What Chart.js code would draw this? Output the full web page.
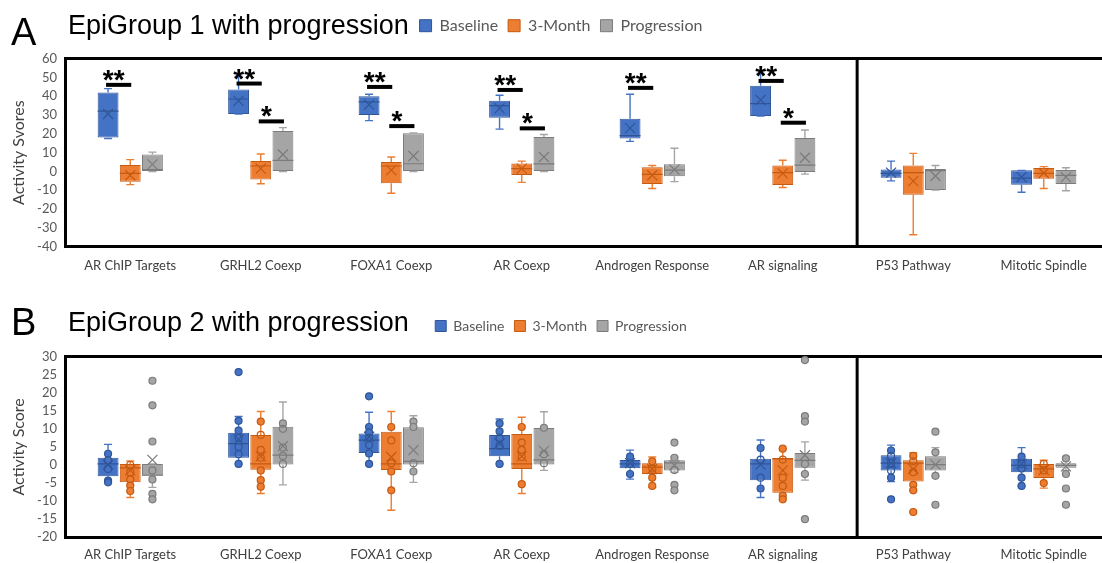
<!DOCTYPE html>
<html>
<head>
<meta charset="utf-8">
<title>EpiGroup activity scores</title>
<script src="https://cdn.jsdelivr.net/npm/chart.js@4.4.1/dist/chart.umd.min.js"></script>
<style>
  body { margin: 0; background: #fff; overflow: hidden; }
  #page { position: relative; width: 1102px; height: 563px; overflow: hidden; }
  canvas { position: absolute; left: 0; }
  #chartA { top: 0; }
  #chartB { top: 290px; }
  .letter, .heading { position: absolute; font-family: "Liberation Sans", Arial, sans-serif; color: #000; white-space: nowrap; }
  .letter { font-size: 38px; line-height: 38px; left: 11px; }
  .heading { font-size: 27px; line-height: 27px; left: 68px; }
</style>
</head>
<body>
<div id="page">
  <canvas id="chartA" width="1112" height="290"></canvas>
  <canvas id="chartB" width="1112" height="288"></canvas>
  <div class="letter" style="top:13px">A</div>
  <div class="heading" style="top:12px">EpiGroup 1 with progression</div>
  <div class="letter" style="top:303px">B</div>
  <div class="heading" style="top:309px">EpiGroup 2 with progression</div>
</div>
<script>
const categories = ["AR ChIP Targets", "GRHL2 Coexp", "FOXA1 Coexp", "AR Coexp",
                    "Androgen Response", "AR signaling", "P53 Pathway", "Mitotic Spindle"];
const seriesNames = ["Baseline", "3-Month", "Progression"];

// each box: [min, q1, median, q3, max]
// EpiGroup 1
const g1Baseline = [[17.5, 18, 32, 42, 44], [30.5, 30.5, 38.5, 43.5, 50.5], [27, 30, 37, 40, 41], [22.5, 28.5, 35, 37.5, 40.5],
                    [16, 17.5, 19, 28, 41], [29.5, 29.5, 36, 45.5, 52], [-5, -3.3, -1, 1, 5.5], [-11, -7, -3.5, 0.6, 0.6]];
const g1Month3 = [[-7, -5.5, -1, 3.5, 6.3], [-6.5, -4.2, 2.9, 5.5, 9.3], [-11.6, -6.3, 2.9, 5, 7.7], [-5.8, -1.9, 1.5, 4.3, 5.5],
                  [-9, -6.7, -1.5, 2.3, 3.2], [-8.5, -7.2, -0.6, 3.2, 6], [-33.6, -12.3, -0.6, 3.2, 9.6], [-9, -3.8, -1, 1.9, 2.6]];
const g1Progression = [[0, 0.2, 1, 9, 10.3], [0, 0.2, 5.9, 21.5, 23.3], [0, 0.2, 4.1, 20.3, 20.5], [0, 0.2, 4, 18.3, 19.6],
                       [-5.4, -2.5, 0.7, 3.9, 12.3], [-1.4, -0.3, 3.4, 17.8, 22], [-9.9, -9.9, 0.5, 1.3, 3.2], [-10.2, -6.7, -2.1, 0.8, 2]];
const g1BaselineMean = [30.5, 37.5, 35.5, 33.5, 23, 38, -0.6, -3];
const g1Month3Mean = [-2, 1.5, 0.7, 1.5, -2, -1, -5.1, -0.8];
const g1ProgressionMean = [3.8, 9, 8.2, 7.7, 1, 7.3, -2.4, -3];
// significance bars (y value), Baseline vs 3-Month "**" and 3-Month vs Progression "*"
const g1SigBaseline = [46, 46.7, 44.9, 43.3, 44.4, 48.1, null, null];
const g1SigProgression = [null, 26.6, 24.1, 22.9, null, 25.9, null, null];

// EpiGroup 2
const g2Baseline = [[-4.8, -3.1, 0.3, 2, 5.7], [0.3, 2, 5.9, 8.9, 13.4], [0.3, 3.3, 6.9, 8.7, 14.6], [0.3, 2.4, 4.5, 8.3, 12.7],
                    [-3.9, -0.9, 0.3, 1.4, 4.1], [-9, -4.2, 0.3, 1.7, 6.9], [-4.6, -1.5, 0.5, 2.7, 5.5], [-5.9, -2, -0.1, 1.7, 4.8]];
const g2Month3 = [[-9, -4.8, -0.8, 0.3, 1.1], [-7.9, -1.3, 0.3, 8.3, 14.8], [-12.5, -1.4, 0.3, 9.2, 14.8], [-7.9, -1.1, 0.3, 8.6, 13.2],
                  [-6.2, -2.5, -0.6, 0.5, 2.2], [-9.5, -7.7, 1.7, 1.9, 4.5], [-7.1, -4.6, 0.5, 1.3, 3.4], [-6.4, -3.6, -1.1, 0.3, 1.3]];
const g2Progression = [[-6.2, -2.9, -2.8, 0.3, 0.3], [-5.5, 0.1, 2.7, 10.6, 17.4], [-4.8, 0.1, 1, 10.4, 13.6], [-1.5, 0.1, 1.4, 10.2, 14.7],
                       [-2, -1.5, 0.6, 1.3, 2.2], [-4.2, -0.8, 1.3, 3.3, 6.4], [-3.2, -1.5, 0.1, 2.4, 4.8], [-1.5, -0.8, -0.1, 0.5, 2.2]];
const g2BaselineMean = [0.1, 7.1, 7.8, 5.9, 0.5, 0.1, 0.5, 0.3];
const g2Month3Mean = [-1.5, 2.4, 2.2, 2.4, -1.1, -1.5, -1.1, -1.4];
const g2ProgressionMean = [1.4, 5.2, 4.1, 3.9, -0.1, 2.7, 0.1, -0.4];
const g2BaselinePoints = [[3.1, 1.3, -1.1, -4.3, -4.8], [25.7, 12.2, 9.5, 7.5, 5, 3, 0.3], [19, 10.5, 9, 7.5, 5.5, 3.2, 0.3],
                          [11.5, 9.3, 7.5, 5.3, 0.3], [2.3, 0.3, -2.5], [4.7, 1.5, -3.5, -6.5],
                          [4, 2.5, 0.5, -1.5, -3.5, -9.5], [2.3, 0.3, -1, -3.5, -5.8]];
const g2Month3Points = [[0, -2, -4, -5.7, -7.2], [12, 8.3, 4.2, 2, -1.5, -4.2, -6], [10.5, 6.8, 0.5, -1.8, -7],
                        [10.5, 6.2, 4.2, 2.2, -5.3], [1, -1, -3.5, -5.8], [4.5, 1.5, -3.5, -5.8, -8.5, -9.5],
                        [2.5, 1, -2, -5.5, -7, -13], [0.3, -1.5, -5]];
const g2ProgressionPoints = [[23.3, 16.5, 6.5, -1.5, -4, -8, -9.5], [11.5, 10, 4.8, 2.5, 0.3], [12, 10.5, 0.5, -1.8],
                             [10.3, 3, 0.5], [6.2, 2, -1.4, -5.5, -7], [29, 13.5, 12, 0.3, -2.5, -15],
                             [9.2, 3.5, -3, -11], [1.8, -2.5, -6.5, -11]];

const seriesColors = ["#4472C4", "#ED7D31", "#A5A5A5"];
const seriesEdges = ["#2F5597", "#C55A11", "#7B7B7B"];

Chart.defaults.font.family = "Lato, 'Open Sans', sans-serif";

// whiskers, median, mean cross and data points on top of the floating bars
const boxPlot = {
    id: "boxPlot",
    afterDatasetsDraw(chart) {
        const ctx = chart.ctx;
        const y = chart.scales.y;
        chart.data.datasets.forEach((ds, i) => {
            const meta = chart.getDatasetMeta(i);
            meta.data.forEach((bar, j) => {
                const s = ds.stats[j];
                const x = bar.x, half = bar.width / 2;
                const py = s.map(v => y.getPixelForValue(v));
                ctx.save();
                ctx.lineWidth = 1.4;
                ctx.strokeStyle = seriesColors[i];
                ctx.beginPath();
                ctx.moveTo(x, py[3]); ctx.lineTo(x, py[4]);
                ctx.moveTo(x - 4, py[4]); ctx.lineTo(x + 4, py[4]);
                ctx.moveTo(x, py[1]); ctx.lineTo(x, py[0]);
                ctx.moveTo(x - 4, py[0]); ctx.lineTo(x + 4, py[0]);
                ctx.stroke();

                ctx.strokeStyle = seriesEdges[i];
                ctx.lineWidth = 1.2;
                ctx.beginPath();
                ctx.moveTo(x - half, py[2]); ctx.lineTo(x + half, py[2]);
                const m = y.getPixelForValue(ds.means[j]);
                ctx.moveTo(x - 5, m - 5); ctx.lineTo(x + 5, m + 5);
                ctx.moveTo(x - 5, m + 5); ctx.lineTo(x + 5, m - 5);
                ctx.stroke();

                if (ds.points) {
                    ds.points[j].forEach(v => {
                        const p = y.getPixelForValue(v);
                        ctx.beginPath();
                        ctx.arc(x, p, 3.5, 0, Math.PI * 2);
                        if (v < s[1] || v > s[3]) {
                            ctx.fillStyle = seriesColors[i];
                            ctx.fill();
                        }
                        ctx.stroke();
                    });
                }
                ctx.restore();
            });
        });
    }
};

// thick divider between the AR gene sets and the control pathways
const divider = {
    id: "divider",
    afterDatasetsDraw(chart) {
        const {ctx, chartArea} = chart;
        const x = chart.scales.x.getPixelForValue(5.57);
        ctx.save();
        ctx.strokeStyle = "#000";
        ctx.lineWidth = 3;
        ctx.beginPath();
        ctx.moveTo(x, chartArea.top);
        ctx.lineTo(x, chartArea.bottom);
        ctx.stroke();
        ctx.restore();
    }
};

function sigMarks(pairs) {
    return {
        id: "sigMarks",
        afterDatasetsDraw(chart) {
            const ctx = chart.ctx;
            const y = chart.scales.y;
            pairs.forEach(p => {
                const a = chart.getDatasetMeta(p.from).data;
                const b = chart.getDatasetMeta(p.to).data;
                p.levels.forEach((v, j) => {
                    if (v === null) return;
                    const x1 = a[j].x - 2, x2 = b[j].x + 1;
                    const yy = y.getPixelForValue(v);
                    ctx.save();
                    ctx.strokeStyle = "#000";
                    ctx.lineWidth = 4;
                    ctx.beginPath();
                    ctx.moveTo(x1, yy);
                    ctx.lineTo(x2, yy);
                    ctx.stroke();
                    ctx.fillStyle = "#000";
                    ctx.font = "bold 28px 'Liberation Sans', Arial";
                    ctx.textAlign = "center";
                    ctx.textBaseline = "alphabetic";
                    ctx.fillText(p.label, (x1 + x2) / 2 - 5, yy + 4);
                    ctx.restore();
                });
            });
        }
    };
}

function makeChart(id, opt) {
    const datasets = seriesNames.map((name, i) => ({
        label: name,
        data: opt.stats[i].map(s => [s[1], s[3]]),
        stats: opt.stats[i],
        means: opt.means[i],
        points: opt.points ? opt.points[i] : null,
        backgroundColor: seriesColors[i],
        borderColor: seriesEdges[i],
        borderWidth: 1,
        borderSkipped: false,
        categoryPercentage: 0.51,
        barPercentage: 0.94
    }));

    return new Chart(document.getElementById(id), {
        type: "bar",
        data: { labels: categories, datasets: datasets },
        options: {
            responsive: false,
            animation: false,
            layout: { padding: opt.padding },
            plugins: {
                legend: {
                    position: "top",
                    labels: {
                        boxWidth: opt.legendBox,
                        boxHeight: opt.legendBox,
                        padding: 10,
                        color: "#595959",
                        font: { size: opt.legendFont }
                    }
                },
                tooltip: { enabled: false }
            },
            scales: {
                x: {
                    grid: { display: false, drawTicks: false },
                    border: { display: true, color: "#000", width: 3 },
                    ticks: { color: "#404040", font: { size: 13 }, padding: opt.xPad, maxRotation: 0, autoSkip: false }
                },
                x2: {
                    type: "category",
                    position: "top",
                    grid: { display: false, drawTicks: false },
                    border: { display: true, color: "#000", width: 3 },
                    ticks: { display: false },
                    afterFit: s => { s.height = opt.topGap; }
                },
                y: {
                    min: opt.yMin,
                    max: opt.yMax,
                    grid: { display: false, drawTicks: false },
                    border: { display: true, color: "#000", width: 3 },
                    ticks: { stepSize: opt.yStep, autoSkip: false, color: "#595959", font: { size: 13 }, padding: 8 },
                    title: { display: true, text: opt.yTitle, color: "#404040", font: { size: 16 }, padding: { top: -4, bottom: 0 } },
                    afterFit: s => { s.width = 52; }
                }
            }
        },
        plugins: opt.plugins
    });
}

makeChart("chartA", {
    stats: [g1Baseline, g1Month3, g1Progression],
    means: [g1BaselineMean, g1Month3Mean, g1ProgressionMean],
    points: null,
    padding: { top: 7.7, left: 13, right: 3, bottom: 5.2 },
    legendFont: 16, legendBox: 12, topGap: 14.8, xPad: 11.2,
    yMin: -40, yMax: 60, yStep: 10, yTitle: "Activity Svores",
    plugins: [boxPlot, divider, sigMarks([
        { from: 0, to: 1, levels: g1SigBaseline, label: "**" },
        { from: 1, to: 2, levels: g1SigProgression, label: "*" }
    ])]
});

makeChart("chartB", {
    stats: [g2Baseline, g2Month3, g2Progression],
    means: [g2BaselineMean, g2Month3Mean, g2ProgressionMean],
    points: [g2BaselinePoints, g2Month3Points, g2ProgressionPoints],
    padding: { top: 19, left: 13, right: 3, bottom: 5.7 },
    legendFont: 14, legendBox: 11, topGap: 13.5, xPad: 9.7,
    yMin: -20, yMax: 30, yStep: 5, yTitle: "Activity Score",
    plugins: [boxPlot, divider]
});
</script>
</body>
</html>
